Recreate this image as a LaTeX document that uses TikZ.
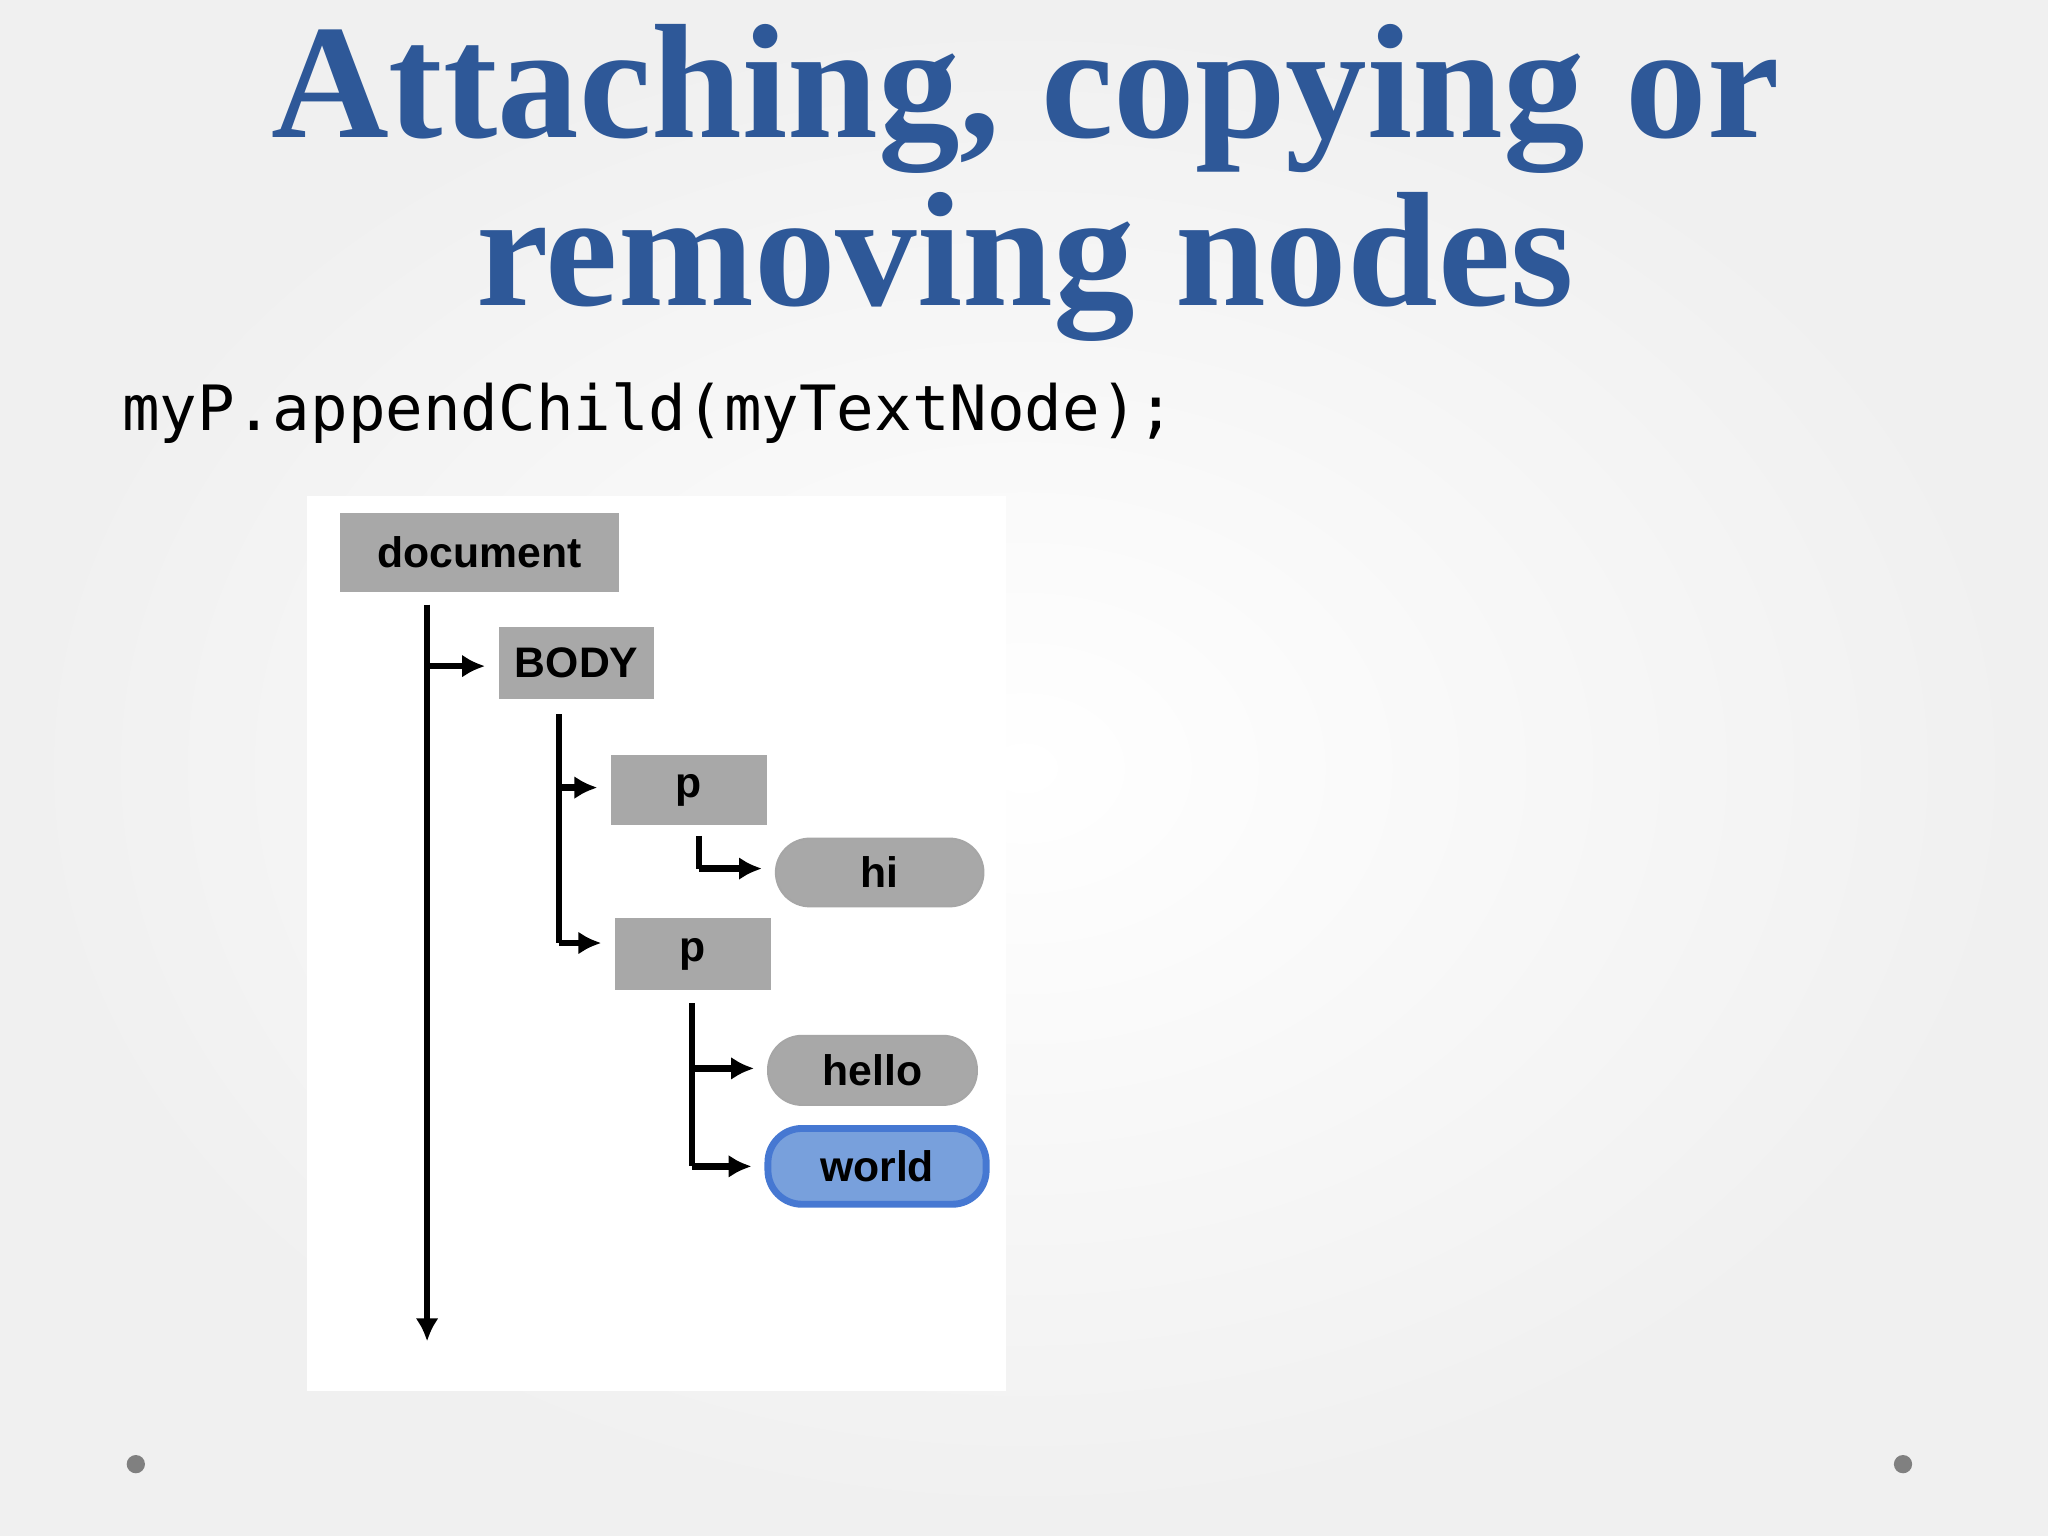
\documentclass[tikz,border=0pt]{standalone}
\usepackage{fontspec}
\setmainfont{Liberation Serif}
\newfontfamily\codefont{DejaVu Sans Mono}
\newfontfamily\boxfont{Liberation Sans}
\usetikzlibrary{arrows.meta}
\definecolor{titleblue}{RGB}{46,88,152}
\definecolor{boxgray}{RGB}{168,168,168}
\definecolor{worldblue}{RGB}{120,160,220}
\definecolor{worldedge}{RGB}{70,120,210}
\begin{document}
\begin{tikzpicture}[x=0.01cm,y=-0.01cm,
  sq/.style={fill=boxgray,draw=none,font=\boxfont\bfseries\fontsize{9.3}{11}\selectfont,inner sep=0},
  pill/.style={fill=boxgray,draw=gray!70,rounded corners=0.26cm,font=\boxfont\bfseries\fontsize{9.3}{11}\selectfont,inner sep=0},
  con/.style={line width=1.4pt,-{Latex[length=5pt,width=5pt]},shorten >=2.8pt},
  ln/.style={line width=1.4pt}]
\useasboundingbox (0,0) rectangle (1568,1176);
\shade[inner color=white,outer color=gray!12] (0,0) rectangle (1568,1176);
\node[font=\bfseries\fontsize{35.5}{36.5}\selectfont,text=titleblue,align=center] (title) at (785,140) {Attaching, copying or\\removing nodes};
\node[font=\codefont\fontsize{13.6}{15}\selectfont,anchor=west,inner sep=0] (code) at (93,316) {myP.appendChild(myTextNode);};
\fill[white] (235,380) rectangle (770,1065);
\node[sq,minimum width=2.14cm,minimum height=0.6cm] (doc) at (367,423) {document};
\node[sq,minimum width=1.19cm,minimum height=0.55cm] (body) at (441.5,507.5) {BODY};
\node[sq,minimum width=1.19cm,minimum height=0.54cm] (p1) at (527.5,605) {p};
\node[pill,minimum width=1.59cm,minimum height=0.52cm] (hi) at (673.5,668) {hi};
\node[sq,minimum width=1.19cm,minimum height=0.55cm] (p2) at (530.5,730.5) {p};
\node[pill,minimum width=1.6cm,minimum height=0.53cm] (hello) at (668,819.5) {hello};
\node[pill,fill=worldblue,draw=worldedge,line width=1.5pt,minimum width=1.67cm,minimum height=0.58cm] (world) at (671.5,893) {world};
\coordinate (docend) at (327,1027);
\draw[con,shorten >=0pt] (327,463) -- (docend);
\draw[con] (327,510) -- (327,510 -| body.west);
\draw[ln] (428,547) -- (428,722);
\draw[con] (428,603) -- (428,603 -| p1.west);
\draw[con] (428,722) -- (428,722 -| p2.west);
\draw[ln] (535,640) -- (535,665);
\draw[con] (535,665) -- (535,665 -| hi.west);
\draw[ln] (530,768) -- (530,893);
\draw[con] (530,818) -- (530,818 -| hello.west);
\draw[con] (530,893) -- (530,893 -| world.west);
\fill[gray] (104,1121) circle (7);
\fill[gray] (1457,1121) circle (7);
\end{tikzpicture}
\end{document}
